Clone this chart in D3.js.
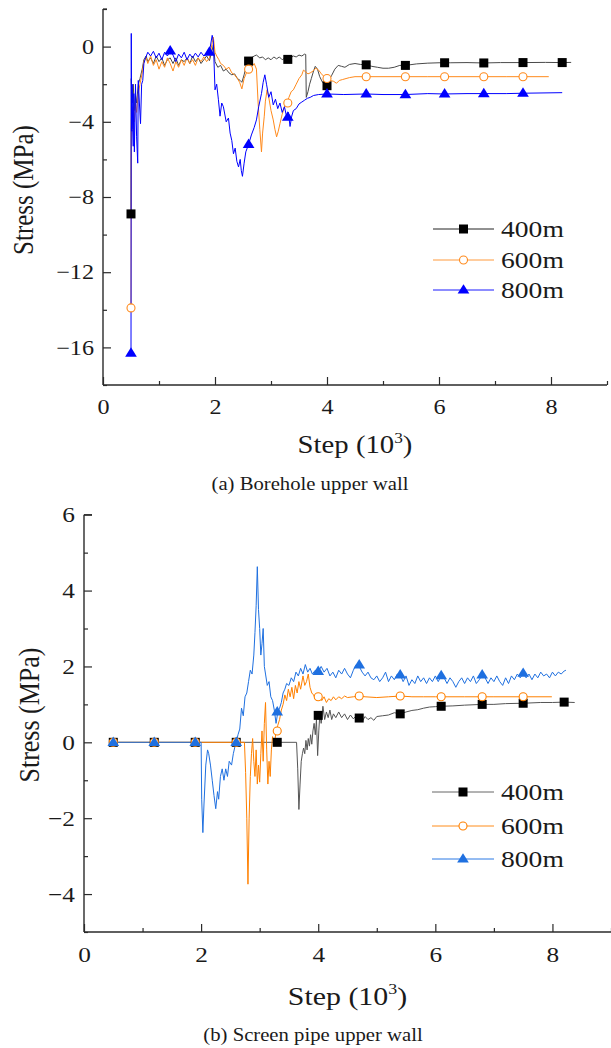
<!DOCTYPE html>
<html><head><meta charset="utf-8">
<script src="https://cdn.jsdelivr.net/npm/d3@7"></script>
<style>
body{margin:0;background:#fff}
svg{display:block}
text{font-family:"Liberation Serif","Times New Roman",serif;fill:#1a1a1a}
</style></head><body>
<svg id="fig" width="611" height="1048"></svg>
<script>
// ---------- (a) Borehole upper wall : [step (10^3), stress (MPa)] ----------
const depthLabels = ["400m", "600m", "800m"];

const wall400 = [[0.5,-8.9],[0.505,-1.7],[0.51,-2.2],[0.52,-3.0],[0.54,-2.0],[0.56,-3.4],[0.58,-2.6],[0.6,-3.0],[0.63,-2.0],[0.66,-1.7],[0.7,-1.2],[0.73,-0.7],[0.77,-0.5],[0.8,-0.8],[0.85,-0.6],[0.9,-0.9],[0.95,-0.5],[1.0,-0.8],[1.05,-0.6],[1.1,-1.0],[1.15,-0.7],[1.2,-0.6],[1.25,-0.9],[1.3,-0.6],[1.35,-1.0],[1.4,-0.7],[1.45,-0.8],[1.5,-0.6],[1.55,-0.9],[1.6,-0.5],[1.65,-0.8],[1.7,-0.6],[1.75,-0.9],[1.8,-0.7],[1.85,-0.5],[1.9,-0.75],[1.95,-0.2],[1.97,0.1],[2.0,-0.8],[2.05,-1.1],[2.1,-1.0],[2.15,-1.3],[2.2,-1.2],[2.25,-1.4],[2.3,-1.5],[2.35,-1.45],[2.4,-1.7],[2.45,-1.8],[2.48,-1.9],[2.52,-1.5],[2.56,-1.0],[2.6,-0.77],[2.65,-0.6],[2.7,-0.5],[2.74,-0.45],[2.8,-0.6],[2.85,-0.55],[2.9,-0.7],[2.95,-0.6],[3.0,-0.7],[3.05,-0.55],[3.1,-0.65],[3.15,-0.55],[3.2,-0.7],[3.25,-0.6],[3.3,-0.68],[3.35,-0.6],[3.4,-0.5],[3.45,-0.55],[3.5,-0.45],[3.55,-0.5],[3.6,-0.4],[3.62,-0.42],[3.63,-2.7],[3.66,-2.4],[3.69,-2.0],[3.72,-1.7],[3.76,-1.3],[3.79,-1.05],[3.83,-1.2],[3.87,-1.6],[3.92,-1.9],[3.98,-2.08],[4.03,-1.8],[4.08,-1.55],[4.14,-1.2],[4.2,-1.0],[4.26,-1.05],[4.32,-1.1],[4.4,-0.95],[4.5,-0.9],[4.6,-0.95],[4.7,-0.97],[4.8,-1.05],[4.9,-1.1],[5.0,-1.15],[5.1,-1.15],[5.2,-1.1],[5.3,-1.0],[5.4,-1.0],[5.6,-0.92],[5.8,-0.88],[6.0,-0.86],[6.2,-0.86],[6.5,-0.85],[6.8,-0.87],[7.1,-0.85],[7.5,-0.85],[7.9,-0.84],[8.2,-0.85],[8.36,-0.84]];
const wall600 = [[0.5,-13.9],[0.505,-4.3],[0.51,-3.6],[0.52,-4.5],[0.54,-3.2],[0.56,-4.0],[0.58,-3.0],[0.6,-3.5],[0.63,-2.5],[0.66,-2.0],[0.7,-1.4],[0.73,-0.8],[0.77,-0.6],[0.8,-0.9],[0.85,-0.5],[0.9,-1.0],[0.95,-0.7],[1.0,-1.2],[1.05,-0.8],[1.1,-1.1],[1.15,-0.6],[1.2,-0.9],[1.25,-1.3],[1.3,-0.8],[1.35,-1.1],[1.4,-0.7],[1.45,-1.0],[1.5,-0.6],[1.55,-0.9],[1.6,-0.7],[1.65,-1.0],[1.7,-0.6],[1.75,-0.8],[1.8,-0.55],[1.85,-0.8],[1.9,-0.6],[1.95,0.2],[1.97,0.5],[2.0,-0.3],[2.03,-0.5],[2.07,-0.7],[2.1,-0.9],[2.15,-1.0],[2.2,-1.2],[2.25,-1.1],[2.3,-1.4],[2.35,-1.5],[2.4,-1.7],[2.44,-1.9],[2.48,-2.25],[2.52,-1.7],[2.56,-1.4],[2.6,-1.2],[2.65,-1.1],[2.7,-0.9],[2.74,-1.2],[2.77,-3.0],[2.8,-4.4],[2.83,-5.6],[2.85,-4.6],[2.88,-3.7],[2.9,-2.9],[2.93,-2.3],[2.96,-2.7],[3.0,-3.4],[3.04,-3.9],[3.07,-4.4],[3.1,-4.8],[3.13,-4.5],[3.16,-4.1],[3.2,-3.6],[3.24,-3.2],[3.28,-3.0],[3.32,-2.7],[3.36,-2.4],[3.4,-2.3],[3.45,-2.0],[3.5,-1.7],[3.55,-1.5],[3.58,-1.25],[3.62,-1.35],[3.66,-1.45],[3.7,-1.4],[3.75,-1.3],[3.8,-1.15],[3.85,-1.25],[3.9,-1.45],[3.95,-1.6],[4.0,-1.7],[4.06,-1.8],[4.12,-1.85],[4.17,-1.95],[4.22,-1.8],[4.28,-1.75],[4.34,-1.7],[4.4,-1.65],[4.5,-1.6],[4.7,-1.6],[5.0,-1.6],[5.4,-1.6],[5.8,-1.6],[6.1,-1.6],[6.5,-1.6],[6.8,-1.6],[7.2,-1.6],[7.5,-1.6],[7.96,-1.6]];
const wall800 = [[0.5,-16.3],[0.505,0.7],[0.51,-4.5],[0.52,-2.0],[0.53,-4.4],[0.54,-5.3],[0.55,-2.5],[0.56,-5.6],[0.58,-2.0],[0.6,-4.8],[0.62,-6.2],[0.63,-1.8],[0.65,-3.0],[0.67,-4.1],[0.69,-2.0],[0.71,-1.8],[0.73,-0.9],[0.76,-0.6],[0.8,-0.3],[0.85,-0.5],[0.9,-0.25],[0.95,-0.6],[1.0,-0.35],[1.05,-0.7],[1.1,-0.3],[1.15,-0.5],[1.2,-0.23],[1.25,-0.45],[1.3,-0.8],[1.35,-0.4],[1.4,-0.6],[1.45,-0.3],[1.5,-0.7],[1.55,-0.4],[1.6,-0.6],[1.65,-0.35],[1.7,-0.55],[1.75,-0.3],[1.8,-0.5],[1.85,-0.4],[1.9,-0.29],[1.95,0.6],[1.97,0.3],[2.0,-2.3],[2.03,-2.0],[2.06,-2.8],[2.09,-3.7],[2.12,-3.0],[2.15,-3.2],[2.2,-4.0],[2.24,-3.8],[2.27,-4.6],[2.3,-5.0],[2.33,-5.7],[2.36,-5.4],[2.39,-6.1],[2.42,-6.4],[2.45,-6.0],[2.47,-6.6],[2.49,-6.9],[2.52,-6.2],[2.55,-5.6],[2.6,-5.2],[2.65,-4.7],[2.7,-4.3],[2.74,-3.9],[2.78,-3.2],[2.83,-2.5],[2.86,-1.9],[2.89,-1.5],[2.92,-2.0],[2.96,-2.7],[3.0,-2.4],[3.04,-3.1],[3.08,-2.8],[3.12,-3.3],[3.16,-3.0],[3.2,-3.5],[3.24,-3.2],[3.28,-3.75],[3.31,-3.5],[3.34,-4.25],[3.37,-3.7],[3.4,-3.4],[3.45,-3.3],[3.5,-3.05],[3.55,-2.95],[3.6,-2.85],[3.65,-2.75],[3.7,-2.7],[3.76,-2.6],[3.85,-2.55],[4.0,-2.52],[4.3,-2.55],[4.7,-2.52],[5.0,-2.55],[5.4,-2.55],[5.8,-2.5],[6.1,-2.52],[6.5,-2.5],[6.8,-2.5],[7.2,-2.5],[7.5,-2.48],[8.2,-2.45]];

const wall400Marks = [[0.5,-8.9],[2.6,-0.77],[3.3,-0.68],[4.0,-2.08],[4.7,-0.97],[5.4,-1.0],[6.1,-0.86],[6.8,-0.87],[7.5,-0.85],[8.2,-0.85]];
const wall600Marks = [[0.5,-13.9],[2.6,-1.2],[3.3,-3.0],[4.0,-1.7],[4.7,-1.6],[5.4,-1.6],[6.1,-1.6],[6.8,-1.6],[7.5,-1.6]];
const wall800Marks = [[0.5,-16.3],[1.2,-0.23],[1.9,-0.29],[2.6,-5.2],[3.3,-3.75],[4.0,-2.52],[4.7,-2.52],[5.4,-2.55],[6.1,-2.52],[6.8,-2.5],[7.5,-2.48]];

// ---------- (b) Screen pipe upper wall ----------
const pipe400 = [[0.5,0],[1.2,0],[1.9,0],[2.6,0],[3.3,0],[3.63,0],[3.65,-0.7],[3.67,-1.77],[3.69,-1.1],[3.71,-0.5],[3.73,-0.3],[3.75,-0.15],[3.77,-0.3],[3.79,0.05],[3.81,-0.2],[3.83,0.1],[3.85,-0.1],[3.87,0.2],[3.89,-0.05],[3.91,0.3],[3.93,0.5],[3.95,0.2],[3.97,0.6],[3.99,-0.35],[4.01,0.3],[4.03,0.8],[4.05,0.5],[4.08,0.95],[4.11,0.6],[4.14,0.8],[4.17,0.65],[4.2,0.85],[4.23,0.6],[4.26,0.75],[4.3,0.65],[4.35,0.8],[4.4,0.65],[4.45,0.75],[4.5,0.6],[4.55,0.72],[4.6,0.62],[4.65,0.7],[4.7,0.64],[4.75,0.55],[4.8,0.68],[4.85,0.6],[4.9,0.65],[4.95,0.58],[5.0,0.68],[5.1,0.7],[5.2,0.72],[5.3,0.78],[5.4,0.75],[5.5,0.8],[5.6,0.84],[5.7,0.86],[5.8,0.9],[5.9,0.93],[6.0,0.94],[6.1,0.95],[6.3,0.96],[6.5,0.98],[6.8,1.0],[7.0,1.0],[7.2,1.02],[7.5,1.03],[7.8,1.05],[8.0,1.05],[8.2,1.06],[8.38,1.05]];
const pipe600 = [[0.5,0],[1.2,0],[1.9,0],[2.6,0],[2.74,0],[2.76,-0.8],[2.78,-2.0],[2.8,-3.74],[2.82,-2.0],[2.84,-0.9],[2.86,-0.3],[2.88,0.1],[2.9,-0.5],[2.92,-0.9],[2.94,-0.2],[2.96,-1.1],[2.98,-0.6],[3.0,-1.05],[3.02,-0.3],[3.04,0.3],[3.06,-0.5],[3.08,0.5],[3.1,1.05],[3.12,-0.2],[3.14,-1.1],[3.16,-0.5],[3.18,-0.9],[3.2,-0.2],[3.22,0.15],[3.25,-0.1],[3.28,0.3],[3.31,0.45],[3.34,0.6],[3.37,0.85],[3.4,1.0],[3.43,1.25],[3.46,1.1],[3.49,1.4],[3.52,1.2],[3.55,1.45],[3.58,1.15],[3.61,1.5],[3.64,1.3],[3.67,1.6],[3.7,1.4],[3.74,1.75],[3.77,1.5],[3.8,1.6],[3.83,1.8],[3.86,1.45],[3.89,1.3],[3.92,1.25],[3.95,1.15],[3.98,1.2],[4.02,1.3],[4.06,1.1],[4.1,1.2],[4.14,1.05],[4.18,1.15],[4.22,1.1],[4.26,1.2],[4.3,1.12],[4.35,1.2],[4.4,1.15],[4.45,1.22],[4.5,1.18],[4.6,1.2],[4.7,1.22],[4.8,1.2],[5.0,1.18],[5.2,1.2],[5.4,1.22],[5.6,1.2],[5.8,1.2],[6.0,1.2],[6.2,1.2],[6.5,1.2],[7.0,1.2],[7.5,1.2],[7.99,1.2]];
const pipe800 = [[0.5,0],[1.2,0],[1.9,0],[2.0,0],[2.01,-1.5],[2.03,-2.38],[2.05,-1.6],[2.08,-0.6],[2.11,-0.2],[2.13,-0.3],[2.16,-0.6],[2.19,-1.0],[2.22,-1.4],[2.25,-1.75],[2.28,-1.3],[2.3,-1.5],[2.33,-0.9],[2.36,-0.7],[2.39,-1.0],[2.42,-0.7],[2.45,-0.9],[2.48,-0.5],[2.52,-0.6],[2.55,-0.3],[2.58,-0.1],[2.6,0],[2.63,0.2],[2.66,0.35],[2.69,0.9],[2.72,0.7],[2.75,1.2],[2.78,1.3],[2.81,1.6],[2.84,1.9],[2.87,1.8],[2.9,2.3],[2.92,2.9],[2.94,3.6],[2.96,4.63],[2.98,3.5],[3.0,3.0],[3.02,2.3],[3.04,2.6],[3.06,3.0],[3.08,2.0],[3.1,1.8],[3.13,1.5],[3.16,1.6],[3.19,1.2],[3.22,1.1],[3.25,0.85],[3.28,0.5],[3.31,0.8],[3.34,0.9],[3.37,1.05],[3.4,1.3],[3.43,1.4],[3.46,1.55],[3.5,1.5],[3.54,1.7],[3.58,1.6],[3.62,1.85],[3.66,1.75],[3.7,1.95],[3.74,1.8],[3.78,2.05],[3.82,1.85],[3.86,1.95],[3.9,1.8],[3.95,1.9],[4.0,1.85],[4.05,2.0],[4.1,1.85],[4.15,1.95],[4.2,1.75],[4.25,1.85],[4.3,1.7],[4.35,1.9],[4.4,1.8],[4.45,1.95],[4.5,1.8],[4.55,1.7],[4.6,1.9],[4.65,2.05],[4.7,2.0],[4.75,1.85],[4.8,1.75],[4.85,1.85],[4.9,1.7],[4.95,1.65],[5.0,1.75],[5.05,1.6],[5.1,1.7],[5.15,1.85],[5.2,1.6],[5.25,1.75],[5.3,1.65],[5.35,1.8],[5.4,1.78],[5.45,1.6],[5.5,1.75],[5.55,1.5],[5.6,1.65],[5.65,1.55],[5.7,1.75],[5.75,1.6],[5.8,1.7],[5.85,1.55],[5.9,1.7],[5.95,1.6],[6.0,1.75],[6.05,1.6],[6.1,1.76],[6.15,1.7],[6.2,1.55],[6.25,1.7],[6.3,1.6],[6.35,1.45],[6.4,1.6],[6.45,1.7],[6.5,1.55],[6.55,1.7],[6.6,1.6],[6.65,1.75],[6.7,1.55],[6.75,1.65],[6.8,1.78],[6.85,1.7],[6.9,1.55],[6.95,1.7],[7.0,1.6],[7.05,1.75],[7.1,1.6],[7.15,1.5],[7.2,1.7],[7.25,1.55],[7.3,1.75],[7.35,1.65],[7.4,1.8],[7.45,1.7],[7.5,1.82],[7.55,1.7],[7.6,1.8],[7.65,1.65],[7.7,1.8],[7.75,1.7],[7.8,1.85],[7.85,1.75],[7.9,1.8],[7.95,1.7],[8.0,1.85],[8.05,1.75],[8.1,1.85],[8.15,1.8],[8.2,1.88],[8.23,1.9]];

const pipe400Marks = [[0.5,0],[1.2,0],[1.9,0],[2.6,0],[3.3,0],[4.0,0.71],[4.7,0.64],[5.4,0.75],[6.1,0.95],[6.8,1.0],[7.5,1.03],[8.2,1.06]];
const pipe600Marks = [[0.5,0],[1.2,0],[1.9,0],[2.6,0],[3.3,0.3],[4.0,1.2],[4.7,1.22],[5.4,1.22],[6.1,1.2],[6.8,1.2],[7.5,1.2]];
const pipe800Marks = [[0.5,0],[1.2,0],[1.9,0],[2.6,0],[3.3,0.8],[4.0,1.87],[4.7,2.04],[5.4,1.78],[6.1,1.76],[6.8,1.78],[7.5,1.82]];

// tick values
const stepTicks = [0, 2, 4, 6, 8];
const stepMinor = [1, 3, 5, 7, 9];
const wallTicks = [0, -4, -8, -12, -16];
const wallMinor = [2, -2, -6, -10, -14, -18];
const pipeTicks = [6, 4, 2, 0, -2, -4];
const pipeMinor = [5, 3, 1, -1, -3, -5];

// ---------- drawing ----------
const svg = d3.select("#fig");
const SX = 1.15; // glyphs in this figure are set slightly wide

function wideText(g, x, y, str, size, anchor) {
  return g.append("text")
    .attr("transform", `translate(${x},${y}) scale(${SX},1)`)
    .attr("text-anchor", anchor || "middle")
    .attr("font-size", size)
    .text(str);
}

function marker(g, shape, color, size) {
  if (shape === "square") {
    return g.append("rect").attr("x", -size / 2).attr("y", -size / 2)
      .attr("width", size).attr("height", size).attr("fill", "#000");
  }
  if (shape === "circle") {
    return g.append("circle").attr("r", size / 2 - 0.5)
      .attr("fill", "#fff").attr("stroke", color).attr("stroke-width", 1.1);
  }
  const w = size * 1.3, h = size * 1.05;
  return g.append("path")
    .attr("d", `M0,${-h * 0.62}L${w / 2},${h * 0.38}L${-w / 2},${h * 0.38}Z`)
    .attr("fill", color);
}

function drawPanel(p) {
  const x = d3.scaleLinear().domain([0, 9]).range([p.left, p.right]);
  const y = d3.scaleLinear().domain(p.yDomain).range([p.bottom, p.top]);
  const g = svg.append("g");
  const axisColor = "#2a2a2a";

  // y axis: labelled major ticks pointing inward, unlabelled minor ticks
  const yAx = g.append("g").attr("transform", `translate(${p.left},0)`)
    .call(d3.axisLeft(y).tickValues(p.yTicks).tickSize(-8).tickPadding(9)
      .tickFormat(d3.format("d")));
  g.append("g").attr("transform", `translate(${p.left},0)`)
    .call(d3.axisLeft(y).tickValues(p.yMinor).tickSize(-4).tickFormat(""));
  // x axis
  const xAx = g.append("g").attr("transform", `translate(0,${p.bottom})`)
    .call(d3.axisBottom(x).tickValues(stepTicks).tickSize(-8).tickPadding(p.xPad)
      .tickFormat(d3.format("d")));
  g.append("g").attr("transform", `translate(0,${p.bottom})`)
    .call(d3.axisBottom(x).tickValues(stepMinor).tickSize(-4).tickFormat(""));

  // plain spines without end caps
  g.selectAll(".domain").attr("stroke", "none");
  yAx.select(".domain").attr("d", `M0,${p.top}V${p.bottom}`).attr("stroke", axisColor).attr("stroke-width", 1.4);
  xAx.select(".domain").attr("d", `M${p.left},0H${p.right}`).attr("stroke", axisColor).attr("stroke-width", 1.4);
  g.selectAll(".tick line").attr("stroke", axisColor).attr("stroke-width", 1.2);

  g.selectAll(".tick text")
    .attr("font-size", p.tickSize).attr("fill", "#1a1a1a")
    .attr("transform", `scale(${SX},1)`);
  // keep right edge of y labels in place after widening
  yAx.selectAll(".tick text").attr("x", -9 / SX);

  // short cap at the top end of the y axis
  g.append("line").attr("x1", p.left).attr("x2", p.left + p.topCap)
    .attr("y1", p.top).attr("y2", p.top).attr("stroke", axisColor).attr("stroke-width", 1.2);

  // series lines, then markers on top
  const line = d3.line().x(d => x(d[0])).y(d => y(d[1]));
  p.series.forEach(s => {
    g.append("path").datum(s.data).attr("d", line)
      .attr("fill", "none").attr("stroke", s.lineColor).attr("stroke-width", 1)
      .attr("stroke-linejoin", "round");
  });
  p.series.forEach(s => {
    s.marks.forEach(d => {
      const mg = g.append("g").attr("transform", `translate(${x(d[0])},${y(d[1])})`);
      marker(mg, s.shape, s.markColor, s.size);
    });
  });

  // legend
  p.series.forEach((s, i) => {
    const ly = p.legendY[i];
    g.append("line").attr("x1", p.legendX0).attr("x2", p.legendX1)
      .attr("y1", ly).attr("y2", ly).attr("stroke", s.legendLine).attr("stroke-width", 1);
    const mg = g.append("g").attr("transform", `translate(${(p.legendX0 + p.legendX1) / 2},${ly})`);
    marker(mg, s.shape, s.markColor, s.size);
    wideText(g, p.legendX1 + 7, ly + 8, depthLabels[i], p.legendSize, "start")
      .attr("fill", "#111");
  });

  // axis titles
  const xt = wideText(g, (p.left + p.right) / 2, p.xTitleY, "", p.titleSize, "middle");
  xt.append("tspan").text("Step (10");
  xt.append("tspan").attr("font-size", p.titleSize * 0.6).attr("dy", -p.titleSize * 0.42).text("3");
  xt.append("tspan").attr("dy", p.titleSize * 0.42).text(")");

  g.append("text")
    .attr("transform", `translate(${p.yTitleX},${p.yTitleY}) scale(${SX},1) rotate(-90)`)
    .attr("text-anchor", "middle").attr("font-size", p.titleSize)
    .text("Stress (MPa)");

  wideText(g, p.captionX, p.captionY, p.caption, 18, "middle").attr("fill", "#111");
}

drawPanel({
  left: 103, right: 607, top: 9, bottom: 385, yDomain: [-18, 2],
  yTicks: wallTicks, yMinor: wallMinor, xPad: 14, tickSize: 21, topCap: 4,
  titleSize: 25, xTitleY: 453, yTitleX: 33, yTitleY: 190,
  caption: "(a) Borehole upper wall", captionX: 310, captionY: 490,
  legendX0: 433, legendX1: 494, legendY: [229, 260, 290], legendSize: 24,
  series: [
    { data: wall400, marks: wall400Marks, shape: "square", lineColor: "#4a4a4a", markColor: "#000", legendLine: "#222", size: 9 },
    { data: wall600, marks: wall600Marks, shape: "circle", lineColor: "#ff8a1c", markColor: "#ff8a1c", legendLine: "#ff9a3c", size: 9 },
    { data: wall800, marks: wall800Marks, shape: "triangle", lineColor: "#0000ff", markColor: "#0000ff", legendLine: "#1a1aff", size: 9 }
  ]
});

drawPanel({
  left: 84, right: 611, top: 514.7, bottom: 932, yDomain: [-5, 6],
  yTicks: pipeTicks, yMinor: pipeMinor, xPad: 14, tickSize: 22, topCap: 8,
  titleSize: 26, xTitleY: 1005, yTitleX: 39, yTitleY: 715,
  caption: "(b) Screen pipe upper wall", captionX: 313, captionY: 1041,
  legendX0: 432, legendX1: 494, legendY: [792, 826, 859], legendSize: 24,
  series: [
    { data: pipe400, marks: pipe400Marks, shape: "square", lineColor: "#555", markColor: "#000", legendLine: "#666", size: 9 },
    { data: pipe600, marks: pipe600Marks, shape: "circle", lineColor: "#ff8000", markColor: "#ff8000", legendLine: "#ff8c1a", size: 9 },
    { data: pipe800, marks: pipe800Marks, shape: "triangle", lineColor: "#1f70e0", markColor: "#1f70e0", legendLine: "#2a78e4", size: 9 }
  ]
});
</script>
</body></html>
